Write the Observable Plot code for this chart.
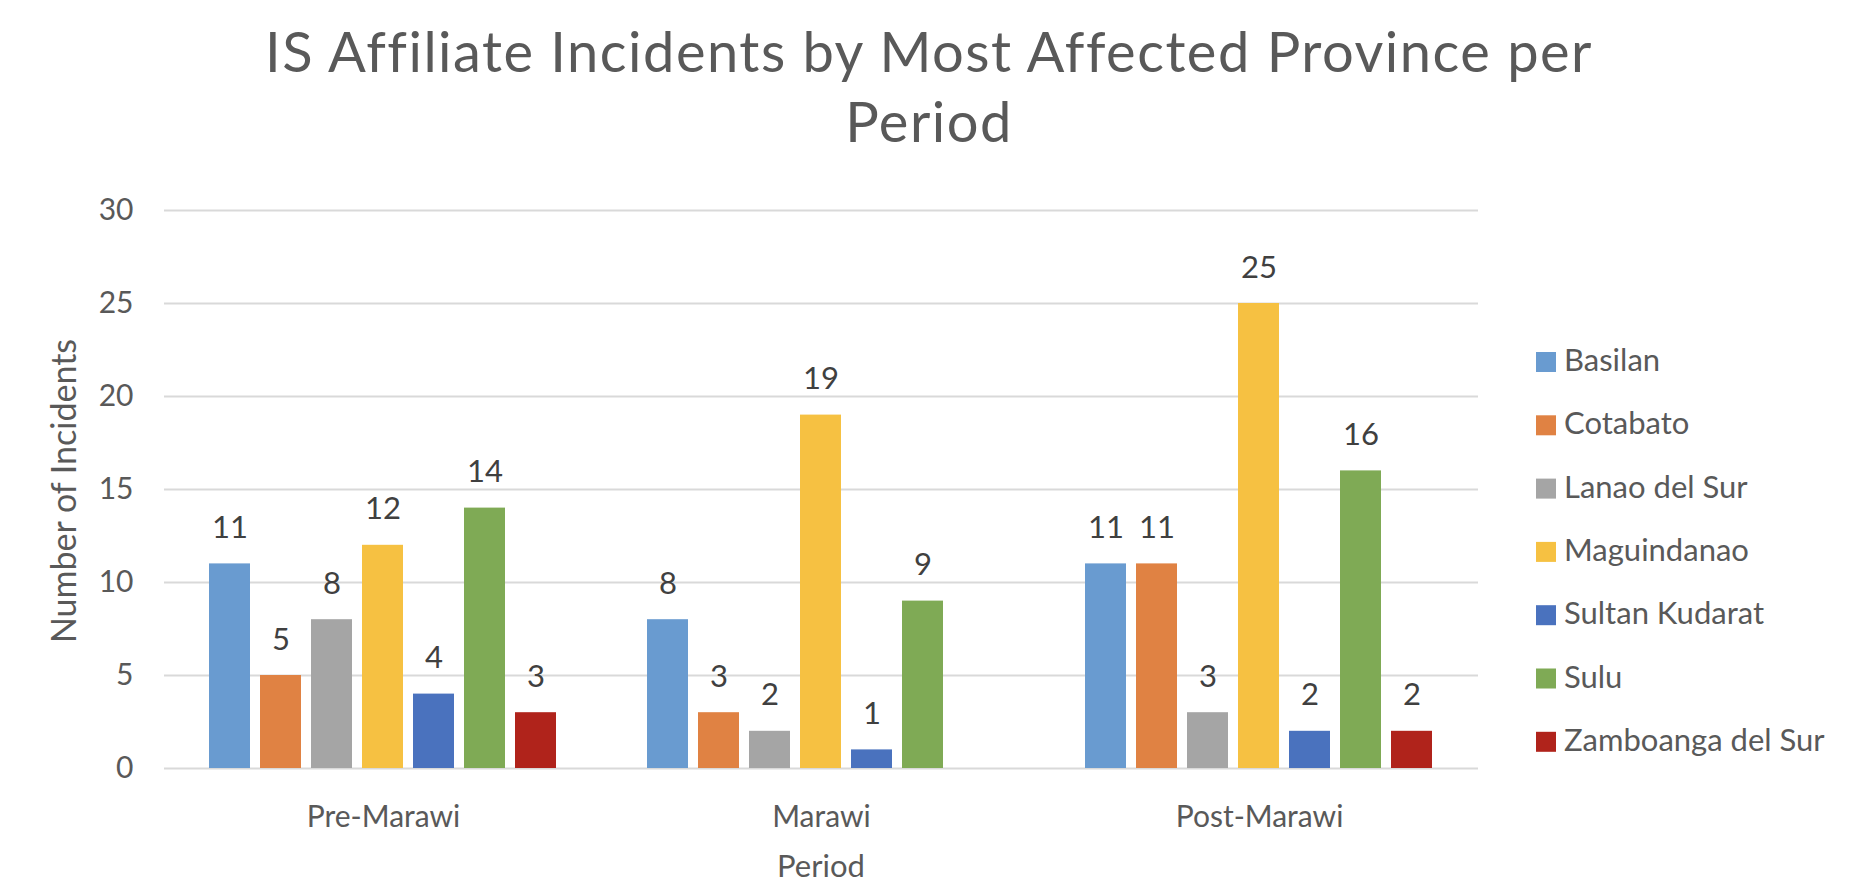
<!DOCTYPE html>
<html><head><meta charset="utf-8">
<script src="https://cdn.jsdelivr.net/npm/d3@7"></script>
<script src="https://cdn.jsdelivr.net/npm/@observablehq/plot@0.6"></script>
<style>
html,body{margin:0;padding:0;background:#fff;}
#wrap{position:relative;width:1854px;height:896px;overflow:hidden;font-family:Lato,"Open Sans",sans-serif;}
#wrap > svg{position:absolute;left:0;top:0;}
</style></head><body><div id="wrap"></div>
<script>
const titleLines = ["IS Affiliate Incidents by Most Affected Province per", "Period"];
const yTitle = "Number of Incidents";
const xTitle = "Period";
const periods = ["Pre-Marawi", "Marawi", "Post-Marawi"];
const provinces = ["Basilan", "Cotabato", "Lanao del Sur", "Maguindanao", "Sultan Kudarat", "Sulu", "Zamboanga del Sur"];
const colors = ["#699bd0", "#e08243", "#a5a5a5", "#f6c142", "#4a72be", "#7faa55", "#b0231b"];
const preMarawi = [11, 5, 8, 12, 4, 14, 3];
const marawi = [8, 3, 2, 19, 1, 9, null];
const postMarawi = [11, 11, 3, 25, 2, 16, 2];
const yTicks = [0, 5, 10, 15, 20, 25, 30];

const series = [preMarawi, marawi, postMarawi];
const rows = [];
periods.forEach((p, i) => provinces.forEach((prov, j) => {
  const v = series[i][j];
  if (v != null) rows.push({period: p, province: prov, value: v});
}));

const chart = Plot.plot({
  width: 1854, height: 896,
  marginTop: 210, marginBottom: 128, marginLeft: 163, marginRight: 375,
  style: {fontFamily: "Lato, 'Open Sans', sans-serif", fontSize: "30px", color: "#595959", background: "transparent", overflow: "visible"},
  fx: {domain: periods, padding: 0, axis: "bottom", label: null, tickSize: 0, tickPadding: 37},
  x: {domain: provinces, axis: null, paddingInner: 0.194, paddingOuter: 0.856},
  y: {domain: [0, 30], ticks: yTicks, tickSize: 0, tickPadding: 31, label: null},
  color: {domain: provinces, range: colors},
  marks: [
    Plot.ruleY(yTicks, {stroke: "#d9d9d9", strokeWidth: 2}),
    Plot.barY(rows, {fx: "period", x: "province", y: "value", fill: "province"}),
    Plot.text(rows, {fx: "period", x: "province", y: "value", text: d => String(d.value), lineAnchor: "bottom", dy: -26, fill: "#404040", fontSize: 31})
  ]
});
const wrap = document.getElementById("wrap");
wrap.appendChild(chart);

const ov = d3.select(wrap).append("svg")
  .attr("width", 1854).attr("height", 896)
  .style("font-family", "Lato, 'Open Sans', sans-serif")
  .style("pointer-events", "none");

ov.selectAll("text.title").data(titleLines).join("text")
  .attr("class", "title")
  .attr("x", 929).attr("y", (d, i) => 72 + i * 70)
  .attr("text-anchor", "middle")
  .attr("font-size", 56).attr("letter-spacing", "1.5px")
  .attr("fill", "#595959").text(d => d);

ov.append("text")
  .attr("transform", "translate(64,491) rotate(-90)")
  .attr("text-anchor", "middle").attr("dy", "0.35em")
  .attr("font-size", 34).attr("fill", "#595959").text(yTitle);

ov.append("text")
  .attr("x", 821).attr("y", 877).attr("text-anchor", "middle")
  .attr("font-size", 31).attr("fill", "#595959").text(xTitle);

const leg = ov.append("g");
provinces.forEach((p, i) => {
  const cy = 362 + i * 63.3;
  leg.append("rect").attr("x", 1536).attr("y", cy - 10).attr("width", 20).attr("height", 20).attr("fill", colors[i]);
  leg.append("text").attr("x", 1564).attr("y", cy + 9).attr("font-size", 31).attr("fill", "#595959").text(p);
});
</script></body></html>
